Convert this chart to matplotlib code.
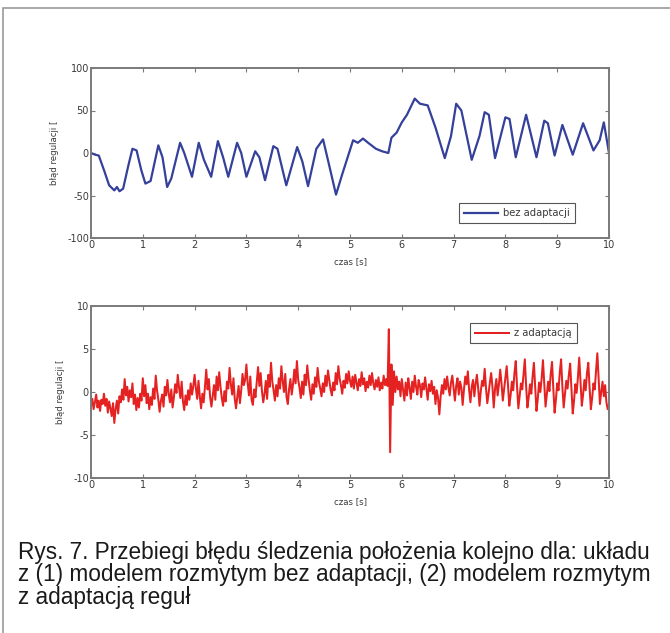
import matplotlib
matplotlib.use("Agg")
import matplotlib.pyplot as plt
import numpy as np
from matplotlib.patches import Rectangle

plt.rcParams["axes.unicode_minus"] = False

# ---------------- data ----------------
blue_t = [0, 0.08, 0.15, 0.25, 0.35, 0.45, 0.5, 0.55, 0.62, 0.72, 0.8, 0.88, 0.97,
          1.05, 1.15, 1.3, 1.38, 1.47, 1.55, 1.72, 1.8, 1.95, 2.08, 2.18, 2.32,
          2.45, 2.55, 2.65, 2.82, 2.9, 3.0, 3.17, 3.25, 3.36, 3.52, 3.6, 3.77,
          3.98, 4.08, 4.19, 4.35, 4.48, 4.6, 4.73, 4.85, 5.06, 5.15, 5.25, 5.35,
          5.5, 5.62, 5.74, 5.8, 5.9, 6.0, 6.1, 6.25, 6.35, 6.5, 6.65, 6.83, 6.95,
          7.05, 7.15, 7.35, 7.5, 7.6, 7.68, 7.8, 8.0, 8.08, 8.2, 8.4, 8.6, 8.75,
          8.82, 8.95, 9.1, 9.3, 9.5, 9.7, 9.82, 9.9, 10.0]
blue_v = [0, -2, -3, -20, -38, -44, -40, -45, -42, -15, 5, 3, -20,
          -36, -33, 9, -5, -40, -30, 12, 0, -28, 12, -8, -28,
          14, -5, -28, 12, 0, -28, 2, -5, -32, 8, 5, -38,
          7, -10, -39, 5, 16, -15, -49, -25, 15, 12, 17, 12,
          5, 2, 0, 18, 24, 36, 45, 64, 58, 56, 30, -6, 20,
          58, 50, -8, 20, 48, 45, -6, 42, 40, -5, 45, -5, 38,
          35, -3, 33, -2, 35, 3, 15, 36, 0]

red_v = [
    -1.5, -0.8, -2.0, -1.2, -0.3, -1.8, -1.0, -2.2, -0.9, -1.4, -0.2, -1.6, -0.8, -2.4, -1.1, -1.9, -2.8, -1.3, -3.6, -2.0,
    -1.0, -2.5, -0.5, -1.2, 0.3, -0.9, 1.5, -0.4, 0.6, -1.1, 0.2, -0.6, 1.0, -1.4, -0.3, -2.1, -0.7, -1.8, -0.2, -1.0,
    1.6, -0.5, 0.8, -1.3, -0.2, -2.0, -0.6, -1.5, 0.4, -0.8, 1.9, 0.2, -0.9, -2.3, -1.0, -0.3, -1.7, 0.6, -0.4, 1.4,
    -0.2, -1.2, 0.3, -1.8, -0.6, 0.9, -0.1, 2.0, 0.5, -0.7, 1.2, -1.1, -2.1, -0.4, -1.5, 0.2, -0.9, 1.0, -0.3, 0.7,
    2.0, 0.4, -0.8, 1.3, -0.5, -1.9, -0.2, -1.2, 0.6, 2.6, 0.3, 1.5, -0.6, -1.7, -0.4, 0.8, -0.9, 1.8, 0.2, 2.3,
    0.6, -0.7, -1.6, 0.1, -1.1, 1.2, 0.4, 2.8, 0.9, -0.3, 1.6, -0.8, -1.9, -0.5, 0.7, -1.3, 0.2, 2.1, 0.8, 1.4,
    3.2, 1.0, -0.4, 1.8, -0.9, -1.5, 0.3, -0.6, 1.1, 2.9, 0.7, 2.2, 0.1, -1.2, -0.2, 1.3, -0.8, 2.0, 0.6, 3.4,
    1.2, 0.2, -1.0, 0.8, -0.5, 1.6, 0.4, 3.0, 1.3, 0.0, 2.1, -0.6, -1.4, 0.4, 1.5, -0.3, 0.9, 2.6, 1.0, 3.6,
    1.4, 0.5, -0.7, 1.2, -0.3, 2.0, 0.8, 3.1, 1.5, 0.2, -0.9, 0.9, -0.2, 1.7, 0.6, 2.8, 1.2, 0.4, -0.5, 1.0,
    0.0, 1.9, 0.7, 2.5, 1.4, 0.3, -0.4, 1.1, 0.2, 2.2, 0.9, 3.0, 1.6, 0.8, -0.2, 1.3, 0.5, 2.1, 1.0, 2.4,
    1.3, 0.6, 1.8, 0.4, 2.0, 1.1, 0.2, 1.5, 0.7, 2.3, 0.9, 1.6, 0.1, 1.2, 0.5, 1.9, 0.8, 2.2, 1.0, 0.3,
    1.4, 0.6, 1.7, 0.2, 1.1, 0.4, 1.9, 0.8, 1.5, 0.7, 7.3, -7.0, 3.2, -1.5, 2.4, 0.0, 1.8, 0.3, 1.2, -0.5,
    1.5, 0.2, -1.0, 1.1, -0.4, 1.6, 0.5, -0.8, 1.2, 0.0, 1.9, 0.6, -0.3, 1.4, 0.8, -0.6, 1.0, 0.3, 1.7, 0.4,
    -0.9, 0.9, 0.1, 1.3, -0.2, 0.6, -1.4, 0.2, -0.7, -2.6, -0.5, 0.8, -0.2, 1.5, 0.3, 1.8, 0.5, -0.4, 1.1, 1.9,
    0.4, -1.0, 0.7, 1.6, -0.3, 1.2, 0.5, -1.5, 0.3, 1.8, 0.9, 2.4, 0.2, -1.2, 0.6, 1.4, -0.5, 1.0, 2.0, 0.4,
    -1.6, 0.1, 1.3, 0.7, 2.7, 0.5, -1.3, -0.2, 1.1, 2.2, 0.6, -1.8, 0.4, 1.5, -0.4, 0.9, 2.6, 1.0, -1.0, 0.3,
    1.6, 3.0, 0.8, -1.6, -0.4, 1.2, 0.2, 2.2, 3.6, 0.6, -1.9, -0.5, 1.0, 0.3, 2.0, 3.8, 0.7, -1.8, -0.6, 0.9,
    -0.2, 1.8, 3.4, 0.5, -2.2, -0.8, 1.1, 0.0, 1.6, 3.7, 0.9, -1.7, -0.3, 1.2, 0.1, 2.1, 3.5, 0.4, -2.4, -0.9,
    1.0, 0.2, 2.3, 3.8, 0.6, -1.8, -0.2, 1.3, 0.4, 2.0, 3.3, 0.3, -2.5, -1.0, 0.9, -0.1, 1.7, 4.0, 1.2, -1.6,
    -0.3, 1.4, 0.2, 2.2, 3.4, 0.5, -2.0, -0.7, 1.0, 0.3, 2.5, 4.5, 1.5, -1.4, 0.0, 1.2, -0.5, 0.8, -1.2, -2.0,
    -1.5]
red_t = np.linspace(0, 10, len(red_v))

x_ticks = [0, 1, 2, 3, 4, 5, 6, 7, 8, 9, 10]
top_yticks = [-100, -50, 0, 50, 100]
bot_yticks = [-10, -5, 0, 5, 10]
ylabel_txt = "błąd regulacji ["
xlabel_txt = "czas [s]"
legend_top = "bez adaptacji"
legend_bot = "z adaptacją"
caption_lines = [
    "Rys. 7. Przebiegi błędu śledzenia położenia kolejno dla: układu",
    "z (1) modelem rozmytym bez adaptacji, (2) modelem rozmytym",
    "z adaptacją reguł",
]

# ---------------- figure ----------------
W, H = 670, 633
fig = plt.figure(figsize=(W / 100, H / 100), dpi=100)
fig.patch.set_facecolor("white")

# outer border
fig.patches.append(Rectangle((3 / W, -0.1), 1.2, 1 - 8 / H + 0.1,
                             transform=fig.transFigure, fill=False,
                             edgecolor="#9a9a9a", linewidth=1.2))

def fx(px):
    return px / W

def fy(py):
    return 1 - py / H

ax1 = fig.add_axes([fx(91), fy(238), (609 - 91) / W, (238 - 68) / H])
ax2 = fig.add_axes([fx(91), fy(478), (609 - 91) / W, (478 - 306) / H])

tick_color = "#3a3a3a"
frame_color = "#7a7a7a"

for ax, yt in ((ax1, top_yticks), (ax2, bot_yticks)):
    ax.set_xlim(0, 10)
    ax.set_ylim(yt[0], yt[-1])
    ax.set_xticks(x_ticks)
    ax.set_yticks(yt)
    ax.tick_params(direction="in", length=3, width=0.8, colors=frame_color,
                   labelcolor=tick_color, labelsize=7, pad=1.5,
                   top=True, right=True)
    for s in ax.spines.values():
        s.set_color(frame_color)
        s.set_linewidth(1.4)
    ax.set_xlabel(xlabel_txt, fontsize=6.2, color=tick_color, labelpad=5)
    ax.set_ylabel(ylabel_txt, fontsize=6.2, color=tick_color, labelpad=6)

ax1.plot(blue_t, blue_v, color="#34409a", linewidth=1.6, label=legend_top)
ax2.plot(red_t, red_v, color="#e52222", linewidth=1.45, label=legend_bot)

for ax, loc, anchor in ((ax1, "lower right", (0.934, 0.088)),
                        (ax2, "upper right", (0.938, 0.901))):
    leg = ax.legend(loc=loc, bbox_to_anchor=anchor, borderaxespad=0,
                    fontsize=7.2, fancybox=False, framealpha=1,
                    handlelength=3.4, handletextpad=0.5, borderpad=0.5)
    leg.get_frame().set_edgecolor("#555555")
    leg.get_frame().set_linewidth(0.8)
    for t in leg.get_texts():
        t.set_color(tick_color)

cap_fam = ["Liberation Sans", "DejaVu Sans"]
for i, line in enumerate(caption_lines):
    fig.text(fx(18), fy(559 + i * 22.5), line, fontsize=16.3, family=cap_fam,
             color="#1a1a1a", va="baseline", ha="left")

fig.savefig("out.png", dpi=100)
